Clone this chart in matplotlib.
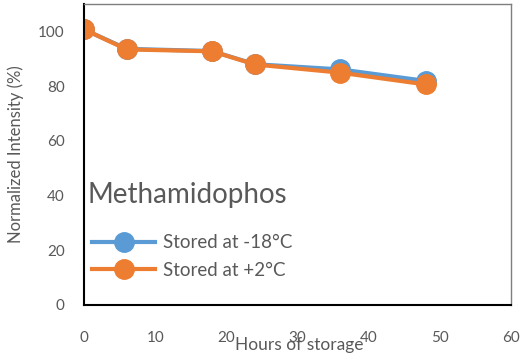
import matplotlib
matplotlib.use("Agg")
import matplotlib.pyplot as plt

# hours of storage and normalized intensity (%)
hours = [0, 6, 18, 24, 36, 48]
cold = [100.7, 93.6, 92.8, 88.0, 86.1, 81.9]   # stored at -18 C
warm = [100.7, 93.4, 92.7, 87.9, 84.9, 80.6]   # stored at +2 C

plt.rcParams["font.family"] = ["Lato", "DejaVu Sans"]
grey = "#595959"

fig = plt.figure(figsize=(5.26, 3.62), dpi=100)
ax = fig.add_axes([0.1597, 0.1575, 0.8118, 0.8315])

ax.plot(hours, cold, color="#5b9bd5", lw=3, marker="o", ms=14,
        label="Stored at -18°C")
ax.plot(hours, warm, color="#ed7d31", lw=3, marker="o", ms=14,
        label="Stored at +2°C")

ax.set_xlim(0, 60)
ax.set_ylim(0, 110)
ax.set_xticks(range(0, 61, 10))
ax.set_yticks(range(0, 101, 20))
ax.tick_params(length=0, labelsize=11, colors=grey)
ax.tick_params(axis="x", pad=19)
ax.tick_params(axis="y", pad=14)

for side in ("left", "bottom"):
    ax.spines[side].set_color("black")
    ax.spines[side].set_linewidth(1.5)
for side in ("top", "right"):
    ax.spines[side].set_color("#7f7f7f")
    ax.spines[side].set_linewidth(1.0)

ax.set_xlabel("Hours of storage", fontsize=12.5, color=grey)
ax.xaxis.set_label_coords(0.503, -0.108)
ax.set_ylabel("Normalized Intensity (%)", fontsize=12, color=grey)
ax.yaxis.set_label_coords(-0.14, 0.5)

# chart title sits inside the plot, above the legend
ax.text(0.009, 0.365, "Methamidophos", transform=ax.transAxes,
        fontsize=20, color=grey, va="center", ha="left")

leg = ax.legend(loc="upper left", bbox_to_anchor=(0.018, 0.235),
                frameon=False, fontsize=13.5,
                handlelength=3.4, handletextpad=0.4, labelspacing=0.55,
                borderaxespad=0, borderpad=0)
for t in leg.get_texts():
    t.set_color(grey)

fig.savefig("out.png", dpi=100)
